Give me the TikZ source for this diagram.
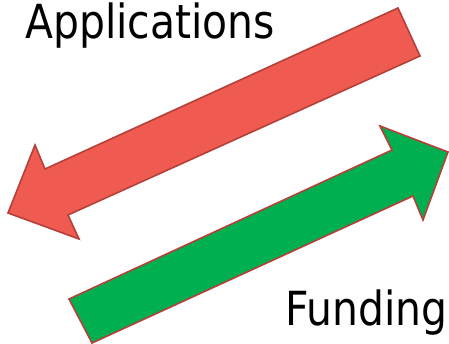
\documentclass[tikz,border=0pt]{standalone}
\usepackage{fontspec}
\newfontfamily\labelfont[FakeStretch=0.87]{DejaVu Sans}
\definecolor{applred}{HTML}{EF5B50}
\definecolor{fundgreen}{HTML}{00AF50}
\definecolor{edgered}{HTML}{B5403A}

\begin{document}
\begin{tikzpicture}[x=1pt, y=-1pt,
        arrowshape/.style={draw=edgered, line width=1.6pt, line join=miter},
        caption/.style={anchor=base west, inner sep=0pt, font=\labelfont\fontsize{47}{56}\selectfont}]
    \useasboundingbox (0,0) rectangle (449,344);
    % applications go down to the left
    \filldraw[arrowshape, fill=applred] (398,8) -- (420,56) -- (68,215) -- (79,239) -- (8,213) -- (35,145) -- (45,169) -- cycle;
    % funding comes back up to the right
    \filldraw[arrowshape, fill=fundgreen] (69,299) -- (392,150) -- (380,126) -- (448,152) -- (423,220) -- (413,196) -- (92,343) -- cycle;
    \node[caption] (applications) at (25,39)  {Applications};
    \node[caption] (funding)      at (285,325) {Funding};
\end{tikzpicture}
\end{document}
